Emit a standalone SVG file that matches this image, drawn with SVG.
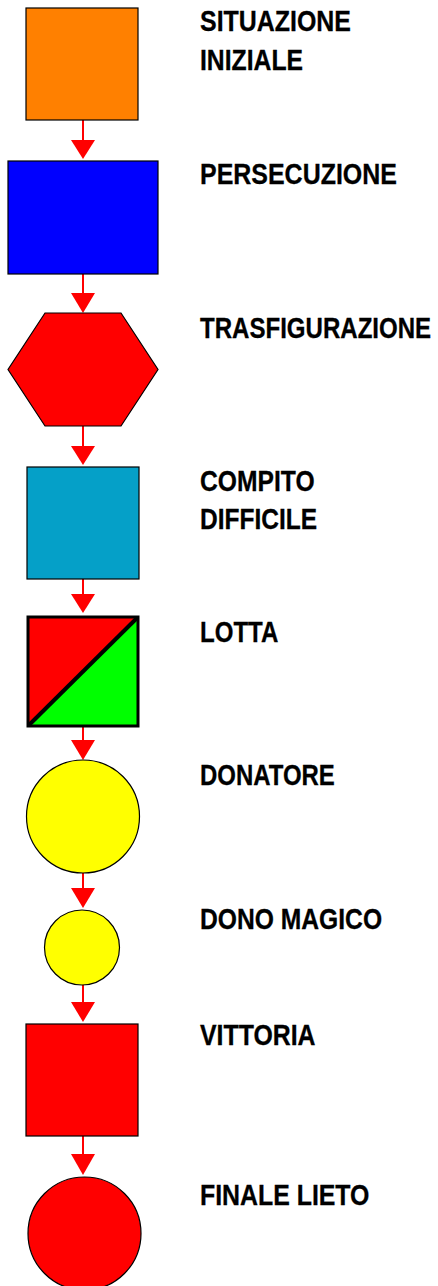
<svg xmlns="http://www.w3.org/2000/svg" width="438" height="1286" viewBox="0 0 438 1286">
<style>
.shape{stroke:#000;stroke-width:1.2}
.lbl{font-family:"Liberation Sans",Arial,sans-serif;font-weight:bold;font-size:29px;fill:#000;stroke:#000;stroke-width:0.3}
.conn line{stroke:#ff0000;stroke-width:2}
.conn polygon{fill:#ff0000}
</style>
<rect width="438" height="1286" fill="#fff"/>
<g id="connectors" class="conn">
<line x1="83" y1="120" x2="83" y2="141"/><polygon points="71,140 95,140 83,159"/>
<line x1="83" y1="274" x2="83" y2="294"/><polygon points="71,293 95,293 83,313"/>
<line x1="83" y1="426" x2="83" y2="447"/><polygon points="71,446 95,446 83,465"/>
<line x1="83" y1="579" x2="83" y2="595"/><polygon points="71,594 95,594 83,613"/>
<line x1="83" y1="727" x2="83" y2="741"/><polygon points="71,740 95,740 83,760"/>
<line x1="83" y1="873" x2="83" y2="889"/><polygon points="71,888 95,888 83,908"/>
<line x1="83" y1="985" x2="83" y2="1003"/><polygon points="71,1002 95,1002 83,1022"/>
<line x1="83" y1="1136" x2="83" y2="1155"/><polygon points="71,1154 95,1154 83,1175"/>
</g>
<g id="n1">
<rect class="shape" x="26" y="8" width="112" height="112" fill="#ff8000"/>
<text class="lbl" transform="translate(200,31) scale(0.86,1)">SITUAZIONE</text>
<text class="lbl" transform="translate(200,70) scale(0.853,1)">INIZIALE</text>
</g>
<g id="n2">
<rect class="shape" x="8" y="161" width="150" height="113" fill="#0000ff"/>
<text class="lbl" transform="translate(200,184) scale(0.861,1)">PERSECUZIONE</text>
</g>
<g id="n3">
<polygon class="shape" points="45,313 121,313 158,369.5 121,426 45,426 8,369.5" fill="#ff0000"/>
<text class="lbl" transform="translate(200,338) scale(0.83,1)">TRASFIGURAZIONE</text>
</g>
<g id="n4">
<rect class="shape" x="27" y="467" width="112" height="112" fill="#05a0c8"/>
<text class="lbl" transform="translate(200,491) scale(0.85,1)">COMPITO</text>
<text class="lbl" transform="translate(200,529) scale(0.845,1)">DIFFICILE</text>
</g>
<g id="n5">
<polygon points="28,617 138,617 28,726" fill="#ff0000"/>
<polygon points="138,617 138,726 28,726" fill="#00ff00"/>
<line x1="28.5" y1="725.5" x2="137.5" y2="617.5" stroke="#000" stroke-width="4"/>
<rect x="28" y="617" width="110" height="109" fill="none" stroke="#000" stroke-width="3"/>
<text class="lbl" transform="translate(200,642) scale(0.83,1)">LOTTA</text>
</g>
<g id="n6">
<circle class="shape" cx="83" cy="816.5" r="56.5" fill="#ffff00"/>
<text class="lbl" transform="translate(200,785) scale(0.826,1)">DONATORE</text>
</g>
<g id="n7">
<circle class="shape" cx="82" cy="947.5" r="37.5" fill="#ffff00"/>
<text class="lbl" transform="translate(200,929) scale(0.85,1)">DONO MAGICO</text>
</g>
<g id="n8">
<rect class="shape" x="26" y="1024" width="112" height="112" fill="#ff0000"/>
<text class="lbl" transform="translate(200,1045) scale(0.857,1)">VITTORIA</text>
</g>
<g id="n9">
<circle class="shape" cx="84.5" cy="1233.5" r="56.5" fill="#ff0000"/>
<text class="lbl" transform="translate(200,1205) scale(0.858,1)">FINALE LIETO</text>
</g>
</svg>
